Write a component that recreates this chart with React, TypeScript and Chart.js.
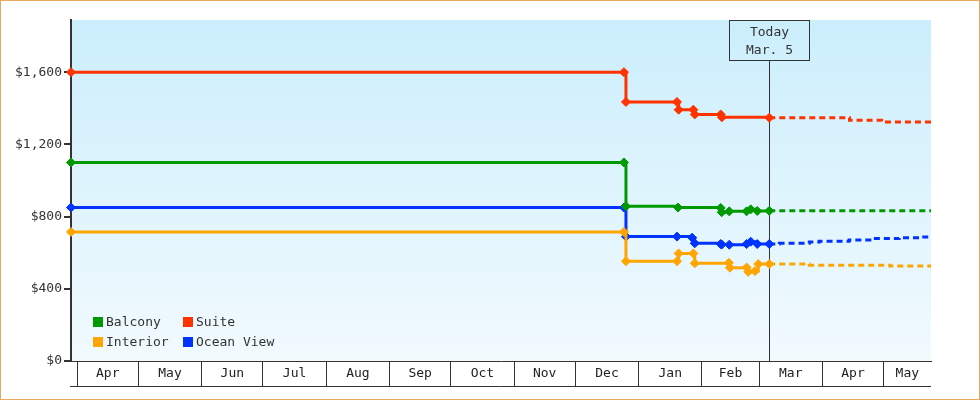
import React, { useEffect, useRef } from 'react';
import { Chart, registerables } from 'chart.js';

Chart.register(...registerables);

const FONT = "'DejaVu Sans Mono', monospace";
const INK = '#333333';

// x values are days counted from Apr 1 (first year)
const xMin = -3;
const xMax = 418.2;
const todayDay = 339;
const todayLines = ['Today', 'Mar. 5'];

const monthNames = ['Apr', 'May', 'Jun', 'Jul', 'Aug', 'Sep', 'Oct', 'Nov', 'Dec', 'Jan', 'Feb', 'Mar', 'Apr', 'May'];
const monthStartDays = [0, 30, 61, 91, 122, 153, 183, 214, 244, 275, 306, 334, 365, 395];
const monthEndDays = [30, 61, 91, 122, 153, 183, 214, 244, 275, 306, 334, 365, 395, 426];

const yTicks = [0, 400, 800, 1200, 1600];
const yMax = 1889;

const seriesNames = ['Balcony', 'Suite', 'Interior', 'Ocean View'];
const seriesColors = ['#009900', '#ff3300', '#ffa500', '#0033ff'];

const balconyDays = [-3, 267.8, 268.8, 294.3, 315.2, 315.7, 319.4, 327.9, 329.9, 333.1, 339];
const balconyPrices = [1100, 1100, 857, 850, 848, 824, 829, 829, 840, 831, 832];
const balconyForecastDays = [339, 418.2];
const balconyForecastPrices = [832, 832];

const suiteDays = [-3, 267.8, 268.8, 293.8, 294.6, 301.8, 302.5, 315.2, 315.8, 339];
const suitePrices = [1600, 1600, 1435, 1435, 1392, 1392, 1366, 1366, 1350, 1348];
const suiteForecastDays = [339, 378.3, 394, 418.2];
const suiteForecastPrices = [1348, 1333, 1324, 1324];

const interiorDays = [-3, 267.8, 268.8, 293.8, 294.6, 301.8, 302.5, 319.2, 319.7, 327.9, 328.7, 332, 333.6, 339];
const interiorPrices = [715, 715, 553, 553, 596, 596, 541, 544, 517, 518, 494, 498, 537, 537];
const interiorForecastDays = [339, 358.6, 398.1, 418.2];
const interiorForecastPrices = [537, 531, 526, 526];

const oceanDays = [-3, 267.8, 268.8, 293.8, 301.2, 302.5, 315.2, 315.7, 319.4, 327.9, 329.9, 333.1, 339];
const oceanPrices = [850, 850, 689, 689, 683, 652, 648, 645, 644, 648, 661, 648, 648];
const oceanForecastDays = [339, 343.9, 358.6, 363.5, 378.1, 389.9, 402.6, 412.4, 418.2];
const oceanForecastPrices = [648, 652, 659, 663, 670, 678, 683, 687, 687];

const historyDays = [balconyDays, suiteDays, interiorDays, oceanDays];
const historyPrices = [balconyPrices, suitePrices, interiorPrices, oceanPrices];
const forecastDays = [balconyForecastDays, suiteForecastDays, interiorForecastDays, oceanForecastDays];
const forecastPrices = [balconyForecastPrices, suiteForecastPrices, interiorForecastPrices, oceanForecastPrices];

// month label positions: middle of visible part of each month
const monthLabelDays: number[] = [];
const monthLabelMap = new Map<number, string>();
monthNames.forEach((name, i) => {
  const s = Math.max(monthStartDays[i], xMin);
  const e = Math.min(monthEndDays[i], xMax);
  if (e - s > 10) {
    const mid = (s + e) / 2;
    monthLabelDays.push(mid);
    monthLabelMap.set(mid, name);
  }
});
const boundarySet = new Set<number>(monthStartDays);

const zip = (xs: number[], ys: number[]) => xs.map((x, i) => ({ x, y: ys[i] }));

const decorPlugin = {
  id: 'decor',
  beforeDraw(chart: any) {
    const { ctx, chartArea: a } = chart;
    ctx.save();
    ctx.fillStyle = '#ffffff';
    ctx.fillRect(0, 0, chart.width, chart.height);
    const g = ctx.createLinearGradient(0, a.top, 0, a.bottom);
    g.addColorStop(0, '#cbeefc');
    g.addColorStop(1, '#f2fafe');
    ctx.fillStyle = g;
    ctx.fillRect(a.left, a.top, a.right - a.left, a.bottom - a.top);
    ctx.restore();
  },
  beforeDatasetsDraw(chart: any) {
    const { ctx, chartArea: a } = chart;
    const x = Math.round(chart.scales.x.getPixelForValue(todayDay)) + 0.5;
    const boxW = 80;
    const boxH = 40;
    const top = a.top + 0.5;
    ctx.save();
    ctx.strokeStyle = INK;
    ctx.lineWidth = 1;
    ctx.strokeRect(x - boxW / 2, top, boxW, boxH);
    ctx.beginPath();
    ctx.moveTo(x, top + boxH);
    ctx.lineTo(x, a.bottom);
    ctx.stroke();
    ctx.fillStyle = INK;
    ctx.font = `13px ${FONT}`;
    ctx.textAlign = 'center';
    ctx.textBaseline = 'middle';
    ctx.fillText(todayLines[0], x, a.top + 12.5);
    ctx.fillText(todayLines[1], x, a.top + 30.5);
    ctx.restore();
  },
  afterDraw(chart: any) {
    const { ctx, chartArea: a } = chart;
    const xs = chart.scales.x;
    ctx.save();
    // bottom line of month band
    ctx.strokeStyle = INK;
    ctx.lineWidth = 1;
    ctx.beginPath();
    ctx.moveTo(a.left - 1, xs.bottom + 0.5);
    ctx.lineTo(a.right, xs.bottom + 0.5);
    ctx.stroke();
    // legend
    ctx.font = `13px ${FONT}`;
    ctx.textAlign = 'left';
    ctx.textBaseline = 'middle';
    const cols = [a.left + 22, a.left + 112];
    const rows = [a.bottom - 44, a.bottom - 24];
    seriesNames.forEach((name, i) => {
      const cx = cols[i % 2];
      const cy = rows[Math.floor(i / 2)];
      ctx.fillStyle = seriesColors[i];
      ctx.fillRect(cx, cy, 10, 10);
      ctx.fillStyle = INK;
      ctx.fillText(name, cx + 13, cy + 5.5);
    });
    // outer frame
    ctx.strokeStyle = '#e8a862';
    ctx.lineWidth = 1;
    ctx.strokeRect(0.5, 0.5, chart.width - 1, chart.height - 1);
    ctx.restore();
  },
};

export default function App() {
  const ref = useRef<HTMLCanvasElement>(null);

  useEffect(() => {
    const canvas = ref.current;
    if (!canvas) return;

    const datasets: any[] = [];
    seriesNames.forEach((name, i) => {
      datasets.push({
        label: name,
        data: zip(historyDays[i], historyPrices[i]),
        borderColor: seriesColors[i],
        backgroundColor: seriesColors[i],
        borderWidth: 3,
        stepped: true,
        pointStyle: 'rectRot',
        pointRadius: 4.5,
        pointBorderWidth: 1,
        pointBorderColor: seriesColors[i],
        pointBackgroundColor: seriesColors[i],
        clip: false,
        fill: false,
      });
    });
    seriesNames.forEach((name, i) => {
      datasets.push({
        label: name + ' forecast',
        data: zip(forecastDays[i], forecastPrices[i]),
        borderColor: seriesColors[i],
        backgroundColor: seriesColors[i],
        borderWidth: 3,
        borderDash: [6, 4],
        stepped: true,
        pointRadius: 0,
        clip: false,
        fill: false,
      });
    });

    const chart = new Chart(canvas, {
      type: 'line',
      data: { datasets },
      plugins: [decorPlugin],
      options: {
        animation: false,
        responsive: false,
        devicePixelRatio: 1,
        layout: { padding: { left: 0, right: 49, top: 20, bottom: 14 } },
        plugins: { legend: { display: false }, tooltip: { enabled: false } },
        font: { family: FONT, size: 13 },
        scales: {
          x: {
            type: 'linear',
            min: xMin,
            max: xMax,
            afterBuildTicks: (scale: any) => {
              const vals = [...monthStartDays, ...monthLabelDays].sort((p, q) => p - q);
              scale.ticks = vals.map((v) => ({ value: v }));
            },
            afterFit: (scale: any) => {
              scale.height = 25;
              scale.paddingLeft = 0;
              scale.paddingRight = 0;
            },
            border: { display: true, color: INK, width: 1 },
            grid: {
              drawOnChartArea: false,
              drawTicks: true,
              tickLength: 25,
              color: (ctx: any) => (ctx.tick && boundarySet.has(ctx.tick.value) ? INK : 'rgba(0,0,0,0)'),
              lineWidth: (ctx: any) => (ctx.tick && boundarySet.has(ctx.tick.value) ? 1 : 0),
            },
            ticks: {
              autoSkip: false,
              maxRotation: 0,
              minRotation: 0,
              padding: -20,
              color: '#222',
              font: { family: FONT, size: 13 },
              callback: (value: any) => monthLabelMap.get(value) ?? '',
            },
          },
          y: {
            type: 'linear',
            min: 0,
            max: yMax,
            afterBuildTicks: (scale: any) => {
              scale.ticks = yTicks.map((v) => ({ value: v }));
            },
            afterFit: (scale: any) => {
              scale.width = 71;
            },
            border: { display: true, color: INK, width: 2 },
            grid: {
              drawOnChartArea: false,
              drawTicks: true,
              tickLength: 7,
              color: INK,
              lineWidth: 2,
            },
            ticks: {
              padding: 2,
              color: '#333',
              font: { family: FONT, size: 13 },
              callback: (value: any) => '$' + Number(value).toLocaleString('en-US'),
            },
          },
        },
      } as any,
    });

    return () => chart.destroy();
  }, []);

  return (
    <div style={{ position: 'fixed', left: 0, top: 0, width: 980, height: 400, background: '#fff' }}>
      <canvas ref={ref} width={980} height={400} style={{ display: 'block', width: 980, height: 400 }} />
    </div>
  );
}
